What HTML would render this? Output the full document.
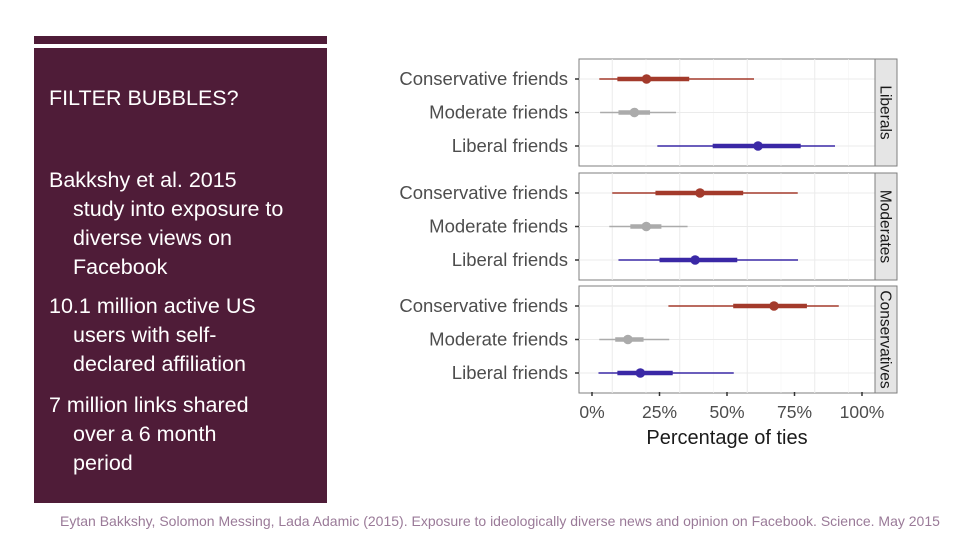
<!DOCTYPE html>
<html><head><meta charset="utf-8"><style>
body{margin:0;width:960px;height:540px;background:#fff;position:relative;overflow:hidden;font-family:"Liberation Sans",Arial,sans-serif}
#bar{position:absolute;left:34px;top:36px;width:293px;height:8px;background:#4f1c38}
#side{position:absolute;left:34px;top:48px;width:293px;height:455px;background:#4f1c38;color:#fff}
.t{position:absolute;left:15px;font-size:21.5px;line-height:29px}
.t p{margin:0;padding-left:24px;text-indent:-24px}
#foot{position:absolute;left:60px;top:513px;font-size:14px;color:#9a7a98;white-space:nowrap}
svg{position:absolute;left:0;top:0}
</style></head><body>
<div id="bar"></div>
<div id="side">
<div class="t" style="top:36px">FILTER BUBBLES?</div>
<div class="t" style="top:118px;width:238px"><p>Bakkshy et al. 2015 study into exposure to diverse views on Facebook</p></div>
<div class="t" style="top:244px;width:238px"><p>10.1 million active US users with self-declared affiliation</p></div>
<div class="t" style="top:343px;width:220px"><p>7 million links shared over a 6 month period</p></div>
</div>
<div id="foot">Eytan Bakkshy, Solomon Messing, Lada Adamic (2015). Exposure to ideologically diverse news and opinion on Facebook. Science. May 2015</div>
<svg id="chart" width="960" height="540"></svg>
<script>
const panels=["Liberals","Moderates","Conservatives"];
const rowLabels=["Conservative friends","Moderate friends","Liberal friends"];
const xTicks=[0,25,50,75,100];
const lo=[[2.7,3.0,24.2],[7.5,6.4,9.8],[28.3,2.7,2.4]];
const q1=[[9.4,9.8,44.7],[23.5,14.2,25.0],[52.3,8.6,9.4]];
const mid=[[20.2,15.7,61.5],[40.0,20.1,38.2],[67.4,13.3,17.9]];
const q3=[[36.0,21.5,77.3],[56.0,25.7,53.8],[79.6,19.1,29.9]];
const hi=[[60.0,31.1,90.0],[76.2,35.4,76.3],[91.4,28.6,52.5]];
const colors=["#a33a2b","#ababab","#3a28a6"];
const svg=document.getElementById('chart');const NS="http://www.w3.org/2000/svg";
const X=v=>592+v*2.7;
const pTop=[59,173,286],pH=107;
function mk(t,a,p){const e=document.createElementNS(NS,t);for(const k in a)e.setAttribute(k,a[k]);(p||svg).appendChild(e);return e;}
panels.forEach((pn,pi)=>{
 const g=mk('g',{});
 
 
 const y0=pTop[pi];
 mk('rect',{x:579,y:y0,width:296,height:pH,fill:'#fff',stroke:'#7f7f7f','stroke-width':1},g);
 for(let i=0;i<9;i++){const v=-5+i*12.5;if(X(v)>579&&X(v)<875)mk('line',{x1:X(v),x2:X(v),y1:y0,y2:y0+pH,stroke:i%2?'#ebebeb':'#f3f3f3','stroke-width':i%2?1:0.6},g);}
 const rowY=r=>y0+20+r*33.5;
 rowLabels.forEach((l,r)=>mk('line',{x1:579,x2:875,y1:rowY(r),y2:rowY(r),stroke:'#ebebeb'},g));
 const strip=mk('rect',{x:875,y:y0,width:22,height:pH,fill:'#e5e5e5',stroke:'#7f7f7f','stroke-width':1},g);
 
 
 const st=mk('text',{x:0,y:0,'font-size':15.5,fill:'#1a1a1a','text-anchor':'middle',transform:`translate(880.5,${y0+pH/2}) rotate(90)`},g);st.textContent=pn;
 
 
 rowLabels.forEach((l,r)=>{
  const y=rowY(r);
  const lt=mk('text',{x:568,y:y+6,'font-size':18.5,fill:'#4d4d4d','text-anchor':'end'},g);lt.textContent=l;
  
  
  mk('line',{x1:575,x2:579,y1:y,y2:y,stroke:'#333','stroke-width':1.5},g);
  const c=colors[r];
  const s=mk('g',{},g);
  
  
  mk('line',{x1:X(lo[pi][r]),x2:X(hi[pi][r]),y1:y,y2:y,stroke:c,'stroke-width':1.6},s);
  mk('line',{x1:X(q1[pi][r]),x2:X(q3[pi][r]),y1:y,y2:y,stroke:c,'stroke-width':4.5},s);
  mk('circle',{cx:X(mid[pi][r]),cy:y,r:4.8,fill:c},s);
 });
});
xTicks.forEach(t=>{
 mk('line',{x1:X(t),x2:X(t),y1:392,y2:396,stroke:'#333','stroke-width':1.5});
 const tx=mk('text',{x:X(t),y:418,'font-size':17.5,fill:'#4d4d4d','text-anchor':'middle'});tx.textContent=t+'%';
 
 
});
const xt=mk('text',{x:727,y:444,'font-size':20,fill:'#1a1a1a','text-anchor':'middle'});xt.textContent='Percentage of ties';


</script>
</body></html>
